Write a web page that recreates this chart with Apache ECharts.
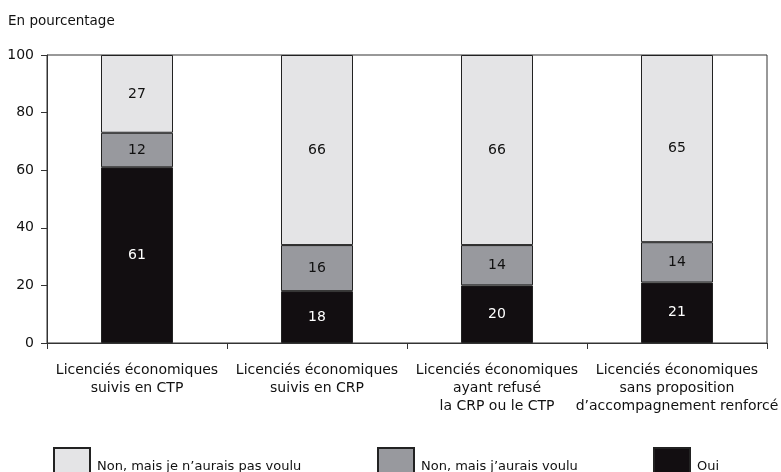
<!DOCTYPE html>
<html>
<head>
    <meta charset="utf-8">
    <script src="https://cdn.jsdelivr.net/npm/echarts@6/dist/echarts.min.js"></script>
</head>
<body style="margin:0">
<div id="main" style="width: 781px;height:472px;"></div>
<script type="text/javascript">
    var categories = [
        'Licenciés économiques\nsuivis en CTP',
        'Licenciés économiques\nsuivis en CRP',
        'Licenciés économiques\nayant refusé\nla CRP ou le CTP',
        'Licenciés économiques\nsans proposition\nd\u2019accompagnement renforcé'
    ];
    var oui = [61, 18, 20, 21];
    var nonVoulu = [12, 16, 14, 14];
    var nonPasVoulu = [27, 66, 66, 65];
    var yTicks = [0, 20, 40, 60, 80, 100];

    var names = ['Non, mais je n\u2019aurais pas voulu', 'Non, mais j\u2019aurais voulu', 'Oui'];
    var colors = ['#e4e4e6', '#98999e', '#120e11'];

    var myChart = echarts.init(document.getElementById('main'));
    var font = 'DejaVu Sans';

    function serie(name, data, color, textColor) {
        return {
            name: name,
            type: 'bar',
            stack: 'total',
            barWidth: '40%',
            data: data,
            itemStyle: { color: color, borderColor: '#222', borderWidth: 1 },
            label: {
                show: true,
                position: 'inside',
                color: textColor,
                fontFamily: font,
                fontSize: 14
            }
        };
    }

    // une légende par entrée, pour placer chaque case
    function legendAt(left, name) {
        return {
            data: [{ name: name, icon: 'rect' }],
            left: left,
            top: 447,
            padding: 0,
            itemWidth: 36,
            itemHeight: 28,
            itemGap: 4,
            formatter: '{t|{name}}',
            textStyle: {
                rich: {
                    t: { fontFamily: font, fontSize: 13, color: '#111', padding: [9, 0, 0, 2] }
                }
            },
            selectedMode: false
        };
    }

    var option = {
        animation: false,
        title: {
            text: 'En pourcentage',
            left: 3,
            top: 9,
            textStyle: { fontFamily: font, fontSize: 13.5, fontWeight: 'normal', color: '#111' }
        },
        grid: {
            left: 47, right: 14, top: 55, bottom: 129,
            show: true, borderColor: '#333', borderWidth: 1,
            containLabel: false,
            outerBoundsMode: 'none'
        },
        legend: [
            legendAt(53, names[0]),
            legendAt(377, names[1]),
            legendAt(653, names[2])
        ],
        xAxis: {
            type: 'category',
            data: categories,
            axisLine: { lineStyle: { color: '#333' } },
            axisTick: { show: true, length: 6, lineStyle: { color: '#333' } },
            axisLabel: {
                interval: 0,
                margin: 18,
                color: '#111',
                fontFamily: font,
                fontSize: 14,
                lineHeight: 18
            }
        },
        yAxis: {
            type: 'value',
            min: yTicks[0],
            max: yTicks[yTicks.length - 1],
            interval: 20,
            splitLine: { show: false },
            axisLine: { show: true, lineStyle: { color: '#333' } },
            axisTick: { show: true, length: 6, lineStyle: { color: '#333' } },
            axisLabel: { color: '#111', fontFamily: font, fontSize: 14, margin: 13 }
        },
        series: [
            serie(names[2], oui, colors[2], '#fff'),
            serie(names[1], nonVoulu, colors[1], '#111'),
            serie(names[0], nonPasVoulu, colors[0], '#111')
        ]
    };

    myChart.setOption(option);
</script>
</body>
</html>
